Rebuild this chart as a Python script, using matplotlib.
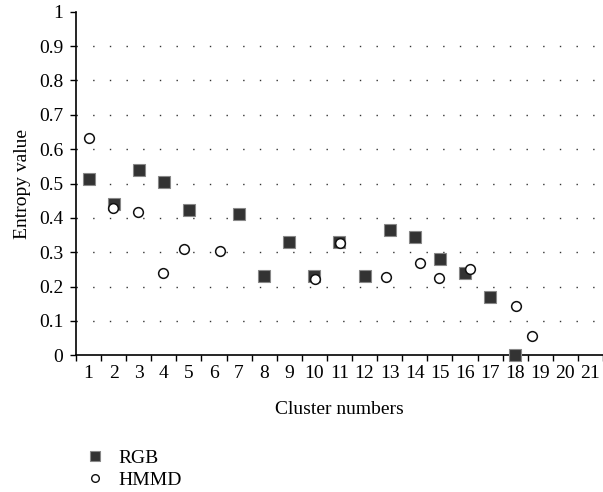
import matplotlib
matplotlib.use("Agg")
import matplotlib.pyplot as plt
from matplotlib.lines import Line2D

plt.rcParams["font.family"] = ["Liberation Serif", "DejaVu Serif"]

# RGB entropy per cluster
rgb_x = [1, 2, 3, 4, 5, 7, 8, 9, 10, 11, 12, 13, 14, 15, 16, 17, 18]
rgb_y = [0.512, 0.440, 0.539, 0.504, 0.422, 0.410, 0.231, 0.330, 0.231,
         0.330, 0.231, 0.366, 0.343, 0.279, 0.240, 0.170, 0.0]

# HMMD entropy per cluster (points sit slightly off the category centres)
hmmd_x = [1.03, 1.99, 2.96, 3.98, 4.79, 6.24, 10.02, 11.02, 12.85, 14.2,
          14.96, 16.2, 18.03, 18.66]
hmmd_y = [0.633, 0.430, 0.417, 0.240, 0.309, 0.304, 0.223, 0.326, 0.227,
          0.268, 0.224, 0.251, 0.142, 0.056]

categories = list(range(1, 22))
y_ticks = [0, 0.1, 0.2, 0.3, 0.4, 0.5, 0.6, 0.7, 0.8, 0.9, 1]
y_labels = ["0", "0.1", "0.2", "0.3", "0.4", "0.5", "0.6", "0.7", "0.8", "0.9", "1"]

fig = plt.figure(figsize=(6.03, 4.92), dpi=100)
ax = fig.add_axes([0.126, 0.278, 0.874, 0.698])

for g in y_ticks[1:-1]:
    ax.axhline(g, color="#333333", lw=1.0, ls=(0, (1, 11)), zorder=0)

ax.plot(rgb_x, rgb_y, ls="none", marker="s", ms=8, mfc="#333333",
        mec="#888888", mew=0.8, clip_on=False, zorder=3)
ax.plot(hmmd_x, hmmd_y, ls="none", marker="o", ms=7, mfc="white",
        mec="#111111", mew=1.1, clip_on=False, zorder=4)

ax.set_xlim(0.5, 21.5)
ax.set_ylim(0, 1)
ax.set_xticks([c + 0.5 for c in [0] + categories])
ax.set_xticklabels([])
ax.set_xticks(categories, minor=True)
ax.set_xticklabels([str(c) for c in categories], minor=True)
ax.tick_params(axis="x", which="major", direction="out", length=4, width=1)
ax.tick_params(axis="x", which="minor", length=0, labelsize=14, pad=7)
ax.set_yticks(y_ticks)
ax.set_yticklabels(y_labels)
ax.tick_params(axis="y", direction="out", length=4, width=1, labelsize=14, pad=5)

ax.spines["top"].set_visible(False)
ax.spines["right"].set_visible(False)
ax.spines["left"].set_linewidth(1.2)
ax.spines["bottom"].set_linewidth(1.2)

ax.set_xlabel("Cluster numbers", fontsize=14, labelpad=14)
ax.set_ylabel("Entropy value", fontsize=14, labelpad=6)

handles = [
    Line2D([], [], ls="none", marker="s", ms=6.5, mfc="#333333", mec="#888888", mew=0.8),
    Line2D([], [], ls="none", marker="o", ms=5.5, mfc="white", mec="#111111", mew=1.0),
]
fig.legend(handles, ["RGB", "HMMD"], loc="upper left", bbox_to_anchor=(0.125, 0.106),
           frameon=False, fontsize=14, handlelength=1.0, handletextpad=0.7,
           labelspacing=0.2, borderpad=0)

fig.savefig("out.png", dpi=100)
